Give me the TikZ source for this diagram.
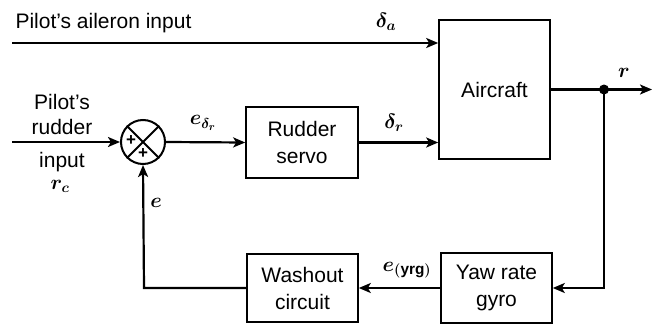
\documentclass[tikz,border=0pt]{standalone}
\usepackage{amsmath}
\usepackage{fontspec}
\setmainfont{Liberation Sans}
\usetikzlibrary{arrows.meta}
\begin{document}
\begin{tikzpicture}[x=1pt,y=-1pt,
  blk/.style={draw,line width=1.6pt,rectangle,inner sep=0pt,align=center,font=\fontsize{21}{27}\selectfont},
  wire/.style={line width=2.2pt,-{Stealth[length=12pt,width=10pt,inset=3pt]}},
  lbl/.style={font=\fontsize{22}{24}\selectfont},
  txt/.style={font=\fontsize{21}{25}\selectfont,align=center}]
\useasboundingbox (0,0) rectangle (654,324);
\node[blk,minimum width=111pt,minimum height=139pt] (air) at (494.5,89.5) {Aircraft};
\node[blk,minimum width=112pt,minimum height=71pt] (servo) at (302,142.5) {Rudder\\servo};
\node[blk,minimum width=111pt,minimum height=68pt] (wash) at (302.5,288) {Washout\\circuit};
\node[blk,minimum width=111pt,minimum height=70pt] (gyro) at (496.5,288) {Yaw rate\\gyro};
\node[draw,circle,line width=2pt,minimum size=44pt,inner sep=0pt] (sum) at (143,142) {};
\draw[line width=1.8pt] (sum.north west) -- (sum.south east) (sum.north east) -- (sum.south west);
\node[font=\bfseries\fontsize{17}{17}\selectfont,inner sep=0pt] (p1) at (131,141) {+};
\node[font=\bfseries\fontsize{17}{17}\selectfont,inner sep=0pt] (p2) at (143,154) {+};
\coordinate (ain) at (12,43);
\coordinate (rin) at (12,142);
\coordinate (jn) at (604,89.5);
\coordinate (out) at (652,89.5);
\coordinate (c1) at (604,288);
\coordinate (c2) at (144,288);
\fill (jn) circle (5pt);
\draw[wire] (ain) -- (ain -| air.west);
\draw[wire] (rin) -- (sum.west);
\draw[wire] (sum.east) -- (servo.west);
\draw[wire] (servo.east) -- (servo.east -| air.west);
\draw[wire] (air.east |- jn) -- (out);
\draw[wire] (jn) -- (c1) -- (gyro.east);
\draw[wire] (gyro.west) -- (wash.east);
\draw[wire] (wash.west) -- (c2) -- (sum.south);
\node[txt,anchor=west] (ail) at (12,23) {Pilot's aileron input};
\node[txt] (prud) at (62,114) {Pilot's\\rudder};
\node[txt] (pinp) at (62,162) {input};
\node[lbl] (rc) at (60,186) {$\boldsymbol{r_c}$};
\node[lbl] (da) at (386,22) {$\boldsymbol{\delta_a}$};
\node[lbl] (edr) at (203,123) {$\boldsymbol{e_{\delta_r}}$};
\node[lbl] (dr) at (394,123) {$\boldsymbol{\delta_r}$};
\node[lbl] (r) at (624,73) {$\boldsymbol{r}$};
\node[lbl] (e) at (156,203) {$\boldsymbol{e}$};
\node[lbl] (eyrg) at (407,270) {$\boldsymbol{e_{(\mathrm{yrg})}}$};
\end{tikzpicture}
\end{document}
